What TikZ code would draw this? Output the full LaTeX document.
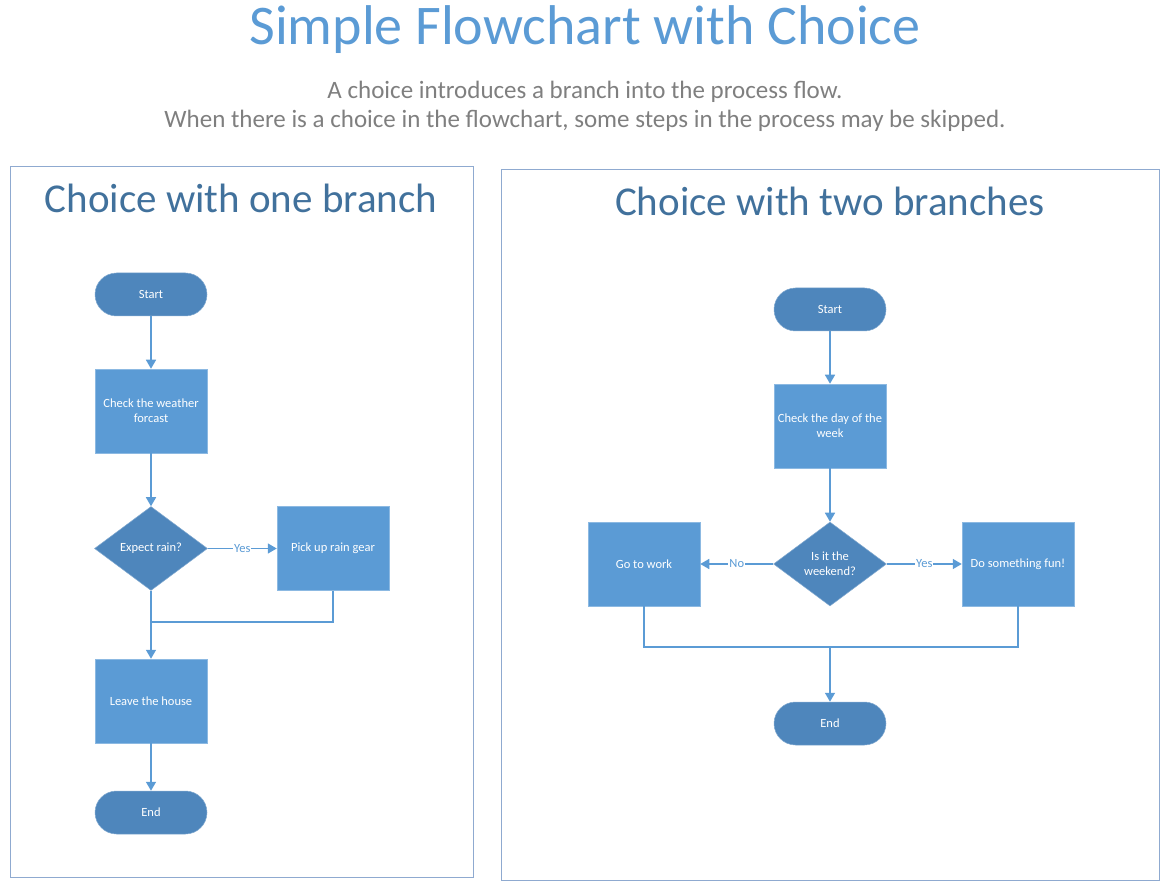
\documentclass[tikz,border=0pt]{standalone}
\usepackage{fontspec}
\setmainfont{Carlito}
\usetikzlibrary{shapes.geometric,arrows.meta}
\definecolor{titleblue}{HTML}{5B9BD5}
\definecolor{subgrey}{HTML}{7F7F7F}
\definecolor{panelblue}{HTML}{41719C}
\definecolor{panelborder}{HTML}{8FAAD0}
\definecolor{procfill}{HTML}{5B9BD5}
\definecolor{darkfill}{HTML}{4E86BC}
\definecolor{linecol}{HTML}{5B9BD5}
\tikzset{
  procbox/.style={rectangle, fill=procfill, draw=procfill!70!white, line width=0.5pt, minimum width=112pt, minimum height=84pt, inner sep=2pt, text=white, font=\fontsize{12.5}{15}\selectfont, align=center},
  termbox/.style={rectangle, rounded corners=21.5pt, fill=darkfill, draw=darkfill!70!white, line width=0.5pt, minimum width=112pt, minimum height=43pt, inner sep=0pt, text=white, font=\fontsize{12.5}{15}\selectfont},
  decbox/.style={diamond, fill=darkfill, draw=darkfill!70!white, line width=0.5pt, minimum width=113pt, minimum height=84pt, inner sep=0pt, text=white, font=\fontsize{12.5}{15}\selectfont, align=center},
  conn/.style={draw=linecol, line width=1.5pt},
  arr/.style={conn, -{Triangle[length=9pt,width=10pt]}},
  lbl/.style={fill=white, text=linecol, inner sep=1pt, font=\fontsize{12.5}{14}\selectfont},
  panel/.style={draw=panelborder, line width=1pt},
  paneltitle/.style={text=panelblue, font=\fontsize{41}{46}\selectfont}
}
\begin{document}
\begin{tikzpicture}[x=1pt,y=-1pt]
\useasboundingbox (0,0) rectangle (1170,890);
% titles
\node[text=titleblue, font=\fontsize{56}{62}\selectfont] (title) at (585,30) {Simple Flowchart with Choice};
\node[text=subgrey, font=\fontsize{25}{29}\selectfont] (sub1) at (585,92) {A choice introduces a branch into the process flow.};
\node[text=subgrey, font=\fontsize{25}{29}\selectfont] (sub2) at (585,121) {When there is a choice in the flowchart, some steps in the process may be skipped.};
% panels
\draw[panel] (10,167) rectangle (473,877);
\draw[panel] (501,170) rectangle (1159,880);
\node[paneltitle] (pt1) at (241,198) {Choice with one branch};
\node[paneltitle] (pt2) at (830,201) {Choice with two branches};
% left flowchart
\node[termbox] (s1) at (151,294.5) {Start};
\node[procbox] (c1) at (151,411) {Check the weather\\forcast};
\node[decbox] (d1) at (151,548.5) {Expect rain?};
\node[procbox] (p1) at (333,548.5) {Pick up rain gear};
\node[procbox] (l1) at (151,701) {Leave the house};
\node[termbox] (e1) at (151,812.5) {End};
\coordinate (m1) at (151,622);
\draw[arr] (s1) -- (c1);
\draw[arr] (c1) -- (d1);
\draw[arr] (d1) -- node[lbl]{Yes} (p1);
\draw[arr] (d1) -- (l1);
\draw[conn] (p1.south) |- (m1);
\draw[arr] (l1) -- (e1);
% right flowchart
\node[termbox] (s2) at (830,309.5) {Start};
\node[procbox] (c2) at (830,426) {Check the day of the\\week};
\node[decbox] (d2) at (830,564) {Is it the\\weekend?};
\node[procbox] (g2) at (644,564) {Go to work};
\node[procbox] (f2) at (1018,564) {Do something fun!};
\node[termbox] (e2) at (830,723.5) {End};
\coordinate (m2) at (830,647);
\draw[arr] (s2) -- (c2);
\draw[arr] (c2) -- (d2);
\draw[arr] (d2) -- node[lbl]{No} (g2);
\draw[arr] (d2) -- node[lbl]{Yes} (f2);
\draw[conn] (g2.south) |- (m2) -| (f2.south);
\draw[arr] (m2) -- (e2);
\end{tikzpicture}
\end{document}
